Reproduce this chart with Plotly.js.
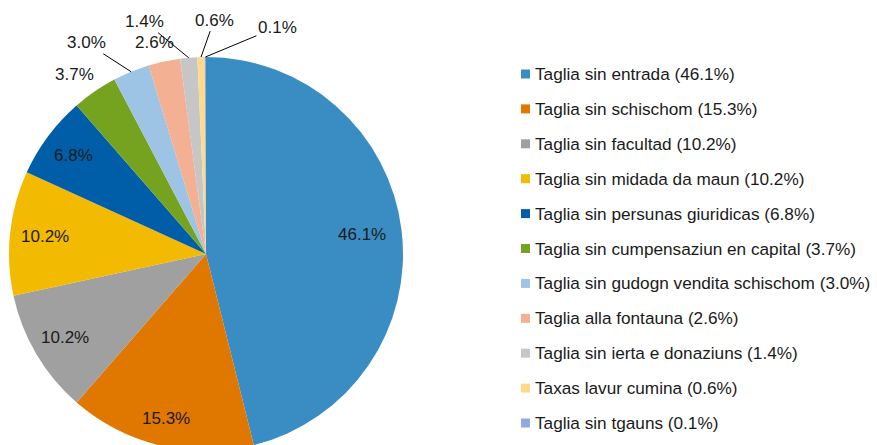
<!DOCTYPE html>
<html>
<head>
<meta charset="utf-8">
<script src="https://cdn.plot.ly/plotly-3.0.1.min.js"></script>
<style>
html, body { margin:0; padding:0; background:#fff; overflow:hidden; width:877px; height:445px; }
#chart { width:877px; height:460px; }
</style>
</head>
<body>
<div id="chart"></div>
<script>
var categories = [
  "Taglia sin entrada",
  "Taglia sin schischom",
  "Taglia sin facultad",
  "Taglia sin midada da maun",
  "Taglia sin persunas giuridicas",
  "Taglia sin cumpensaziun en capital",
  "Taglia sin gudogn vendita schischom",
  "Taglia alla fontauna",
  "Taglia sin ierta e donaziuns",
  "Taxas lavur cumina",
  "Taglia sin tgauns"
];
var shares = [46.1, 15.3, 10.2, 10.2, 6.8, 3.7, 3.0, 2.6, 1.4, 0.6, 0.1];
var colors = ["#3A8DC3", "#E07800", "#A0A0A0", "#F2BA00", "#005EA8", "#76A31F",
              "#9DC3E5", "#F3B092", "#C6C6C6", "#FFD98C", "#8FAADC"];

// label placement (style): inside labels use a radius fraction, outside labels a pixel offset from the rim
var labelInside   = [true, true, true, true, true, false, false, false, false, false, false];
var labelRadius   = [0.80, 0.86, 0.83, 0.82, 0.84, 0, 0, 0, 0, 0, 0];
var labelOffsets  = [[0,0],[0,0],[0,0],[0,0],[0,0],
                     [-20,-17],[-45,-29],[-10,-19],[-44,-36],[13,-37],[72,-30]];
var labelLeader   = [false, false, false, false, false, false, true, false, true, true, true];

var W = 877, H = 460;
var FONT = "Liberation Sans, Arial, sans-serif";
var TXT = "#1a1a1a";

// pie domain in pixels
var px0 = 9, px1 = 403, pyTop = 57, pyBot = 451;
var cx = (px0 + px1) / 2, cy = (pyTop + pyBot) / 2, R = (px1 - px0) / 2;

var trace = {
  type: "pie",
  labels: categories,
  values: shares,
  sort: false,
  direction: "clockwise",
  rotation: 0,
  marker: { colors: colors, line: { width: 0 } },
  textinfo: "none",
  hoverinfo: "label+value",
  showlegend: false,
  domain: { x: [px0 / W, px1 / W], y: [(H - pyBot) / H, (H - pyTop) / H] }
};

var annotations = [];
var shapes = [];

// slice labels, anchored on each slice's mid angle (from the data)
var total = shares.reduce(function (a, b) { return a + b; }, 0);
var cum = 0;
for (var i = 0; i < shares.length; i++) {
  var mid = (cum + shares[i] / 2) / total * 2 * Math.PI;
  cum += shares[i];
  var s = Math.sin(mid), c = Math.cos(mid);
  var txt = shares[i].toFixed(1) + "%";
  var f = { family: FONT, size: 17, color: TXT };
  if (labelInside[i]) {
    var lx = cx + labelRadius[i] * R * s, ly = cy - labelRadius[i] * R * c;
    annotations.push({ xref: "paper", yref: "paper", x: lx / W, y: 1 - ly / H,
      xanchor: "center", yanchor: "middle", text: txt, showarrow: false, font: f });
  } else {
    var rx = cx + R * s, ry = cy - R * c;
    var off = labelOffsets[i];
    if (labelLeader[i]) {
      annotations.push({ xref: "paper", yref: "paper", x: rx / W, y: 1 - ry / H,
        ax: off[0], ay: off[1], text: txt, showarrow: true, arrowhead: 0,
        arrowwidth: 1, arrowcolor: "#000", standoff: 0, startstandoff: 0, font: f });
    } else {
      annotations.push({ xref: "paper", yref: "paper", x: (rx + off[0]) / W, y: 1 - (ry + off[1]) / H,
        xanchor: "center", yanchor: "middle", text: txt, showarrow: false, font: f });
    }
  }
}

// legend
var rowTop = 74, rowStep = 34.9;
for (var j = 0; j < categories.length; j++) {
  var yc = rowTop + j * rowStep;
  annotations.push({
    xref: "paper", yref: "paper",
    x: 533 / W, y: 1 - yc / H,
    xanchor: "left", yanchor: "middle",
    text: categories[j] + " (" + shares[j].toFixed(1) + "%)",
    showarrow: false,
    font: { family: FONT, size: 17.2, color: TXT }
  });
  shapes.push({
    type: "rect", xref: "paper", yref: "paper",
    x0: 521 / W, x1: 530 / W,
    y0: 1 - (yc + 4.5) / H, y1: 1 - (yc - 4.5) / H,
    fillcolor: colors[j], line: { width: 0 }
  });
}

var layout = {
  width: W, height: H,
  margin: { l: 0, r: 0, t: 0, b: 0 },
  paper_bgcolor: "#ffffff",
  plot_bgcolor: "#ffffff",
  font: { family: FONT, size: 16, color: TXT },
  showlegend: false,
  annotations: annotations,
  shapes: shapes
};

Plotly.newPlot("chart", [trace], layout, { displayModeBar: false, staticPlot: true });
</script>
</body>
</html>
